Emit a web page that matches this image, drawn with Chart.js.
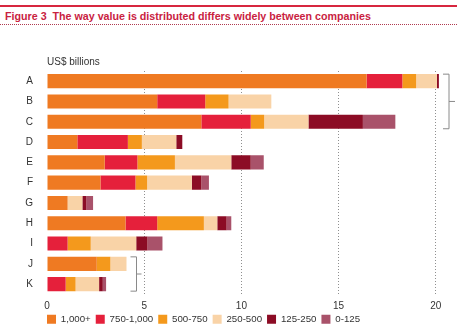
<!DOCTYPE html>
<html>
<head>
<meta charset="utf-8">
<script src="https://cdn.jsdelivr.net/npm/chart.js@4.4.0/dist/chart.umd.min.js"></script>
<style>
  html, body { margin: 0; padding: 0; background: #fff; }
  body { width: 457px; height: 330px; overflow: hidden; position: relative; font-family: "Liberation Sans", Arial, sans-serif; }
  .topline { position: absolute; left: 0; top: 5px; width: 457px; height: 2px; background: #d7263f; }
  .title { position: absolute; left: 5px; top: 10px; font-size: 10.7px; font-weight: bold; color: #c9223f; white-space: nowrap; }
  .dots { position: absolute; left: 0; top: 24px; width: 457px; border-top: 1px dotted #b03a50; }
  #wrap { position: absolute; left: 0; top: 28px; width: 457px; height: 302px; }
</style>
</head>
<body>
<div class="topline"></div>
<div class="title">Figure 3&nbsp;&nbsp;The way value is distributed differs widely between companies</div>
<div class="dots"></div>
<div id="wrap"><canvas id="chart"></canvas></div>
<script>
const companies = ['A', 'B', 'C', 'D', 'E', 'F', 'G', 'H', 'I', 'J', 'K'];
const bands = ['1,000+', '750-1,000', '500-750', '250-500', '125-250', '0-125'];
const bandColors = ['#ef7a22', '#e5203b', '#f4991c', '#f9d3a7', '#8c0c25', '#a9526a'];

const v1000plus = [16.44, 5.67, 7.94, 1.56, 2.97, 2.75, 1.06, 4.04, 0, 2.56, 0];
const v750to1000 = [1.84, 2.47, 2.54, 2.60, 1.68, 1.80, 0, 1.63, 1.06, 0, 0.96];
const v500to750 = [0.71, 1.20, 0.69, 0.72, 1.93, 0.60, 0, 2.40, 1.19, 0.70, 0.51];
const v250to500 = [1.07, 2.20, 2.28, 1.77, 2.90, 2.30, 0.76, 0.69, 2.34, 0.83, 1.21];
const v125to250 = [0.10, 0, 2.80, 0.31, 1.00, 0.49, 0.21, 0.48, 0.58, 0, 0.19];
const v0to125 = [0, 0, 1.67, 0, 0.67, 0.39, 0.34, 0.24, 0.77, 0, 0.17];

const xTicks = [0, 5, 10, 15, 20];

const series = [v1000plus, v750to1000, v500to750, v250to500, v125to250, v0to125];

const FONT = '"Liberation Sans", Arial, sans-serif';
Chart.defaults.font.family = FONT;
Chart.defaults.color = '#333';

// "US$ billions" label, the two brackets, and legend lined up with the plot
const extras = {
  id: 'extras',
  afterLayout(chart) {
    // legend starts under the plot's left edge, not the canvas edge
    chart.legend.left = chart.chartArea.left - 5;
  },
  afterDraw(chart) {
    const { ctx, chartArea, scales } = chart;
    const y = scales.y;
    const half = 7;
    ctx.save();
    ctx.fillStyle = '#333';
    ctx.font = '10px ' + FONT;
    ctx.textBaseline = 'middle';
    ctx.fillText('US$ billions', chartArea.left, chartArea.top - 9);

    ctx.strokeStyle = '#8a8a8a';
    ctx.lineWidth = 1;
    // A–C bracket on the right
    let top = y.getPixelForValue(0) - half, bot = y.getPixelForValue(2) + half;
    let bx = chartArea.right + 3.5;
    ctx.beginPath();
    ctx.moveTo(bx - 6, top); ctx.lineTo(bx, top); ctx.lineTo(bx, bot); ctx.lineTo(bx - 6, bot);
    ctx.moveTo(bx, (top + bot) / 2); ctx.lineTo(bx + 6, (top + bot) / 2);
    ctx.stroke();
    // J–K bracket
    top = y.getPixelForValue(9) - half; bot = y.getPixelForValue(10) + half;
    bx = Math.round(scales.x.getPixelForValue(4.6)) + 0.5;
    ctx.beginPath();
    ctx.moveTo(bx - 6, top); ctx.lineTo(bx, top); ctx.lineTo(bx, bot); ctx.lineTo(bx - 6, bot);
    ctx.moveTo(bx, (top + bot) / 2); ctx.lineTo(bx + 5, (top + bot) / 2);
    ctx.stroke();
    ctx.restore();
  }
};

new Chart(document.getElementById('chart'), {
  type: 'bar',
  data: {
    labels: companies,
    datasets: series.map((d, i) => ({
      label: bands[i],
      data: d,
      backgroundColor: bandColors[i],
      borderWidth: 0,
      categoryPercentage: 0.77,
      barPercentage: 0.9
    }))
  },
  options: {
    indexAxis: 'y',
    responsive: true,
    maintainAspectRatio: false,
    animation: false,
    layout: { padding: { left: 0, right: 11.5, top: 43, bottom: -4 } },
    scales: {
      x: {
        stacked: true,
        min: 0,
        max: 20.5,
        afterBuildTicks: (axis) => { axis.ticks = xTicks.map(v => ({ value: v })); },
        afterFit: (axis) => { axis.height = 15; },
        grid: {
          drawTicks: false,
          color: (c) => c.tick && c.tick.value === 0 ? 'rgba(0,0,0,0)' : '#8f8f8f',
          lineWidth: 1
        },
        border: { display: false, dash: [1, 2] },
        ticks: { padding: 6, font: { size: 10 }, color: '#333' }
      },
      y: {
        stacked: true,
        afterFit: (axis) => { axis.width = 47; },
        grid: { display: false },
        border: { display: false },
        ticks: { padding: 6, font: { size: 10 }, color: '#333' }
      }
    },
    plugins: {
      legend: {
        position: 'bottom',
        align: 'start',
        labels: {
          boxWidth: 9,
          boxHeight: 9,
          padding: 5,
          font: { size: 9.7 },
          color: '#333'
        }
      },
      tooltip: { enabled: false }
    }
  },
  plugins: [extras]
});
</script>
</body>
</html>
